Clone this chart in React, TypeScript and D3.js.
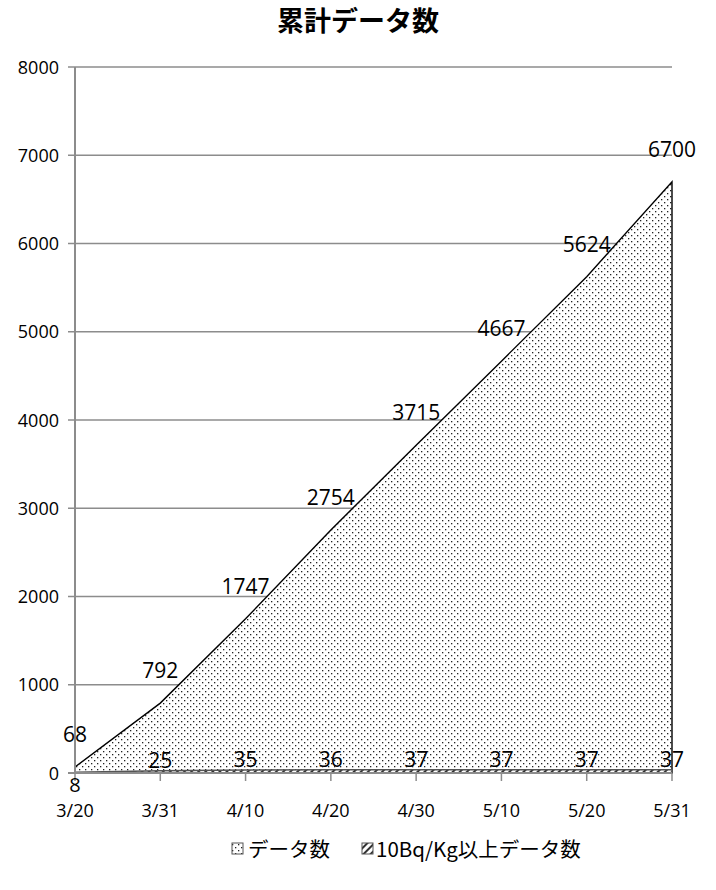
import React from 'react';
import * as d3 from 'd3';

// categories and series
const dates = ['3/20', '3/31', '4/10', '4/20', '4/30', '5/10', '5/20', '5/31'];
const totalCount = [68, 792, 1747, 2754, 3715, 4667, 5624, 6700];
const over10Count = [8, 25, 35, 36, 37, 37, 37, 37];
const yTicks = [0, 1000, 2000, 3000, 4000, 5000, 6000, 7000, 8000];

const W = 716, H = 890;
const margin = { top: 67, right: 44, bottom: 117, left: 75 };
const numFont = '"Open Sans", "Noto Sans", sans-serif';
const jpFont = '"Noto Sans CJK JP", sans-serif';

export default function App() {
    const x = d3.scalePoint<string>()
        .domain(dates)
        .range([margin.left, W - margin.right]);
    const y = d3.scaleLinear()
        .domain([0, 8000])
        .range([H - margin.bottom, margin.top]);

    const area = d3.area<number>()
        .x((d, i) => x(dates[i]) as number)
        .y0(y(0))
        .y1(d => y(d));

    const x0 = margin.left, x1 = W - margin.right, yb = y(0);

    return (
        <svg width={W} height={H} style={{ display: 'block' }}>
            <style>{`body{margin:0}`}</style>
            <defs>
                <pattern id="dots" width="6" height="6" patternUnits="userSpaceOnUse">
                    <rect width="6" height="6" fill="#fff" />
                    <rect x="1" y="1" width="1.3" height="1.3" fill="#222" />
                    <rect x="4" y="4" width="1.3" height="1.3" fill="#222" />
                </pattern>
                <pattern id="hatch" width="5" height="5" patternUnits="userSpaceOnUse" patternTransform="rotate(45)">
                    <rect width="5" height="5" fill="#fff" />
                    <rect width="2" height="5" fill="#333" />
                </pattern>
            </defs>

            {/* title */}
            <text x={W / 2} y={31} textAnchor="middle" fontFamily={jpFont} fontWeight="bold" fontSize={27}>
                累計データ数
            </text>

            {/* gridlines */}
            {yTicks.filter(t => t > 0).map(t => (
                <line key={t} x1={x0 - 7} x2={x1} y1={y(t)} y2={y(t)} stroke="#8c8c8c" strokeWidth={1.3} />
            ))}

            {/* areas */}
            <path d={area(totalCount) || ''} fill="url(#dots)" stroke="#000" strokeWidth={1.4} />
            <path d={area(over10Count) || ''} fill="url(#hatch)" stroke="#555" strokeWidth={1.5} />

            {/* axes */}
            <line x1={x0} x2={x0} y1={margin.top} y2={yb} stroke="#8c8c8c" strokeWidth={2} />
            <line x1={x0 - 7} x2={x1} y1={yb} y2={yb} stroke="#8c8c8c" strokeWidth={2.2} />
            {dates.map(d => (
                <line key={d} x1={x(d)} x2={x(d)} y1={yb} y2={yb + 8} stroke="#8c8c8c" strokeWidth={1.5} />
            ))}

            {/* y tick labels */}
            {yTicks.map(t => (
                <text key={t} x={59} y={y(t) + 6.5} textAnchor="end" fontFamily={numFont} fontSize={18} fill="#000">
                    {t}
                </text>
            ))}

            {/* x tick labels */}
            {dates.map(d => (
                <text key={d} x={x(d)} y={yb + 44} textAnchor="middle" fontFamily={numFont} fontSize={18} fill="#000">
                    {d}
                </text>
            ))}

            {/* data labels */}
            {totalCount.map((v, i) => (
                <text key={'t' + i} x={x(dates[i])} y={y(v) - 25} textAnchor="middle" fontFamily={numFont} fontSize={21} fill="#000">
                    {v}
                </text>
            ))}
            {over10Count.map((v, i) => (
                <text key={'o' + i} x={x(dates[i])} y={i === 0 ? y(v) + 20 : y(v) - 3} textAnchor="middle" fontFamily={numFont} fontSize={i === 0 ? 20 : 21} fill="#000">
                    {v}
                </text>
            ))}

            {/* legend */}
            <g fontFamily={jpFont} fontSize={20.5}>
                <rect x={232} y={843} width={11} height={11} fill="url(#dots)" stroke="#555" strokeWidth={1} />
                <text x={248} y={857}>データ数</text>
                <rect x={362} y={843} width={11} height={11} fill="url(#hatch)" stroke="#555" strokeWidth={1} />
                <text x={376} y={857}>10Bq/Kg以上データ数</text>
            </g>
        </svg>
    );
}
